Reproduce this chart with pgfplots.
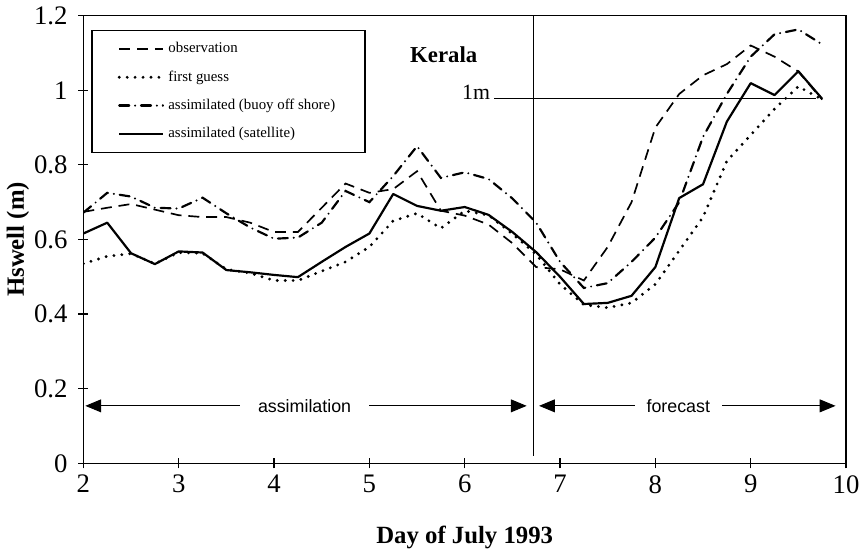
\documentclass[border=0pt]{standalone}
\usepackage{pgfplots}
\pgfplotsset{compat=1.18}
\usepackage{fontspec}
\setmainfont{Liberation Serif}
\newfontfamily\arialfont{Liberation Sans}
\usetikzlibrary{arrows.meta}

\pgfplotstableread{
x obs fg buoy sat
2.00 0.674 0.535 0.672 0.616
2.25 0.685 0.555 0.725 0.645
2.50 0.695 0.562 0.715 0.563
2.75 0.680 0.535 0.685 0.534
3.00 0.665 0.565 0.683 0.568
3.25 0.660 0.563 0.712 0.565
3.50 0.660 0.520 0.670 0.518
3.75 0.645 0.510 0.632 0.512
4.00 0.620 0.490 0.602 0.505
4.25 0.620 0.490 0.605 0.499
4.50 0.685 0.515 0.645 0.540
4.75 0.750 0.540 0.730 0.580
5.00 0.725 0.580 0.700 0.616
5.25 0.735 0.650 0.770 0.722
5.50 0.783 0.670 0.850 0.690
5.75 0.677 0.630 0.765 0.677
6.00 0.664 0.677 0.780 0.687
6.25 0.640 0.665 0.762 0.666
6.50 0.590 0.615 0.710 0.620
6.75 0.526 0.560 0.645 0.566
7.00 0.520 0.480 0.540 0.500
7.25 0.490 0.425 0.470 0.427
7.50 0.580 0.417 0.483 0.430
7.75 0.700 0.430 0.540 0.449
8.00 0.900 0.480 0.605 0.526
8.25 0.990 0.570 0.700 0.711
8.50 1.040 0.660 0.875 0.748
8.75 1.070 0.810 0.990 0.916
9.00 1.120 0.880 1.090 1.019
9.25 1.090 0.950 1.150 0.987
9.50 1.050 1.010 1.163 1.051
9.75 0.975 0.975 1.123 0.977
}\datatable

\begin{document}
\begin{tikzpicture}
\begin{axis}[
  scale only axis,
  width=385pt, height=226pt,
  xmin=2, xmax=10, ymin=0, ymax=1.2,
  xtick={2,3,4,5,6,7,8,9,10},
  ytick={0,0.2,0.4,0.6,0.8,1,1.2},
  tick align=center,
  xtick pos=bottom, ytick pos=left,
  major tick length=5pt,
  axis line style={line width=0.8pt},
  tick style={black, line width=0.6pt},
  tick label style={font=\fontsize{13.5}{14}\selectfont},
  /pgf/number format/assume math mode=true,
  yticklabel style={xshift=-2pt},
  xlabel={\textbf{Day of July 1993}},
  ylabel={\textbf{Hswell (m)}},
  label style={font=\fontsize{12.5}{14}\selectfont},
  xlabel style={at={(axis description cs:0.5,-0.165)}, anchor=center},
  ylabel style={at={(axis description cs:-0.086,0.5)}, anchor=center},
  no markers,
  legend image code/.code={\draw[#1] (0pt,0pt) -- (22pt,0pt);},
  legend cell align=left,
  legend style={at={(0.0104,0.968)}, anchor=north west, draw=black,
    line width=0.6pt, font=\fontsize{7.5}{9}\selectfont,
    row sep=3.5pt, inner xsep=13pt, inner ysep=4pt},
]
\addplot[black, line width=0.85pt, dash pattern=on 5.5pt off 3.5pt] table[x=x,y=obs] {\datatable};
\addlegendentry{observation}
\addplot[black, line width=1.6pt, line cap=round, dash pattern=on 0pt off 4pt] table[x=x,y=fg] {\datatable};
\addlegendentry{first guess}
\addplot[black, line width=1.1pt, line cap=round, dash pattern=on 5pt off 3pt on 0pt off 3pt] table[x=x,y=buoy] {\datatable};
\addlegendentry{assimilated (buoy off shore)}
\addplot[black, line width=1.1pt, line join=round] table[x=x,y=sat] {\datatable};
\addlegendentry{assimilated (satellite)}

\addplot[black, line width=0.6pt, forget plot] coordinates {(6.72,0.02) (6.72,1.2)};
\addplot[black, line width=0.6pt, forget plot] coordinates {(6.31,0.977) (9.68,0.977)};
\addplot[black, line width=0.5pt, forget plot, {Triangle[length=8pt,width=6.5pt]}-{Triangle[length=8pt,width=6.5pt]}] coordinates {(2.02,0.154) (6.65,0.154)};
\addplot[black, line width=0.5pt, forget plot, {Triangle[length=8pt,width=6.5pt]}-{Triangle[length=8pt,width=6.5pt]}] coordinates {(6.78,0.154) (9.89,0.154)};

\node[fill=white, inner xsep=9pt, inner ysep=1pt, font=\arialfont\fontsize{9}{10}\selectfont] at (axis cs:4.32,0.154) {assimilation};
\node[fill=white, inner xsep=6pt, inner ysep=1pt, font=\arialfont\fontsize{9}{10}\selectfont] at (axis cs:8.24,0.154) {forecast};
\node[font=\bfseries\fontsize{11.5}{12}\selectfont] at (axis cs:5.78,1.096) {Kerala};
\node[anchor=east, inner sep=1pt, font=\fontsize{11}{12}\selectfont] at (axis cs:6.29,0.995) {1m};
\end{axis}
\end{tikzpicture}
\end{document}
